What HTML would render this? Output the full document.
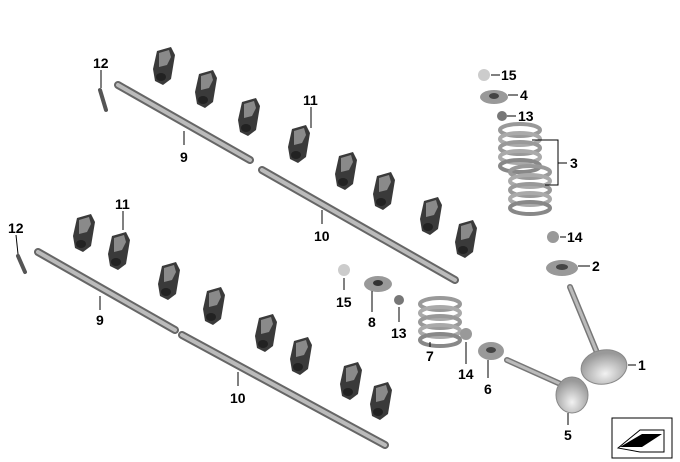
<!DOCTYPE html>
<html><head><meta charset="utf-8"><style>
html,body{margin:0;padding:0;background:#fff;}
svg{display:block}
text{font-family:"Liberation Sans",sans-serif;font-weight:bold;font-size:14px;fill:#000}
</style></head><body>
<svg width="680" height="462" viewBox="0 0 680 462" xmlns="http://www.w3.org/2000/svg">
<defs>
<radialGradient id="vh" cx="0.5" cy="0.7" r="0.6">
<stop offset="0" stop-color="#f2f2f2"/><stop offset="1" stop-color="#999"/>
</radialGradient>
<g id="rk">
<path d="M-8,-14 L6,-18 L10,-10 L6,14 L-2,20 L-10,16 L-12,4 Z" fill="#3a3a3a"/>
<path d="M-6,-12 L4,-15 L6,-8 L2,0 L-6,2 Z" fill="#8a8a8a"/>
<ellipse cx="-4" cy="12" rx="5" ry="4" fill="#222"/>
</g>
<g id="spr">
<ellipse cx="0" cy="-18" rx="20" ry="6" fill="none" stroke="#999" stroke-width="4"/>
<ellipse cx="0" cy="-9" rx="20" ry="6" fill="none" stroke="#aaa" stroke-width="4"/>
<ellipse cx="0" cy="0" rx="20" ry="6" fill="none" stroke="#999" stroke-width="4"/>
<ellipse cx="0" cy="9" rx="20" ry="6" fill="none" stroke="#aaa" stroke-width="4"/>
<ellipse cx="0" cy="18" rx="20" ry="6" fill="none" stroke="#888" stroke-width="4"/>
</g>
</defs>
<g stroke-linecap="round">
<line x1="118" y1="85" x2="250" y2="160" stroke="#666" stroke-width="8"/>
<line x1="118" y1="85" x2="250" y2="160" stroke="#bbb" stroke-width="4"/>
<line x1="262" y1="170" x2="455" y2="280" stroke="#666" stroke-width="8"/>
<line x1="262" y1="170" x2="455" y2="280" stroke="#bbb" stroke-width="4"/>
<line x1="38" y1="252" x2="175" y2="330" stroke="#666" stroke-width="8"/>
<line x1="38" y1="252" x2="175" y2="330" stroke="#bbb" stroke-width="4"/>
<line x1="182" y1="335" x2="385" y2="445" stroke="#666" stroke-width="8"/>
<line x1="182" y1="335" x2="385" y2="445" stroke="#bbb" stroke-width="4"/>
<line x1="100" y1="90" x2="106" y2="110" stroke="#555" stroke-width="4"/>
<line x1="18" y1="256" x2="25" y2="272" stroke="#555" stroke-width="4"/>
</g>
<use href="#rk" x="165" y="65"/><use href="#rk" x="207" y="88"/><use href="#rk" x="250" y="116"/><use href="#rk" x="300" y="143"/>
<use href="#rk" x="347" y="170"/><use href="#rk" x="385" y="190"/><use href="#rk" x="432" y="215"/><use href="#rk" x="467" y="238"/>
<use href="#rk" x="85" y="232"/><use href="#rk" x="120" y="250"/><use href="#rk" x="170" y="280"/><use href="#rk" x="215" y="305"/>
<use href="#rk" x="267" y="332"/><use href="#rk" x="302" y="355"/><use href="#rk" x="352" y="380"/><use href="#rk" x="382" y="400"/>
<circle cx="484" cy="75" r="6" fill="#ccc"/>
<ellipse cx="494" cy="97" rx="14" ry="7" fill="#999"/><ellipse cx="494" cy="96" rx="5" ry="3" fill="#444"/>
<ellipse cx="502" cy="116" rx="5" ry="5" fill="#777"/>
<use href="#spr" x="520" y="148"/><use href="#spr" x="530" y="190"/>
<ellipse cx="553" cy="237" rx="6" ry="6" fill="#999"/>
<ellipse cx="562" cy="268" rx="16" ry="8" fill="#999"/><ellipse cx="562" cy="267" rx="6" ry="3" fill="#444"/>
<circle cx="344" cy="270" r="6" fill="#ccc"/>
<ellipse cx="378" cy="284" rx="14" ry="8" fill="#999"/><ellipse cx="378" cy="283" rx="5" ry="3" fill="#333"/>
<ellipse cx="399" cy="300" rx="5" ry="5" fill="#777"/>
<use href="#spr" x="440" y="322"/>
<ellipse cx="466" cy="334" rx="6" ry="6" fill="#999"/>
<ellipse cx="491" cy="351" rx="13" ry="9" fill="#999"/><ellipse cx="491" cy="350" rx="5" ry="3" fill="#444"/>
<!-- valves -->
<line x1="570" y1="287" x2="598" y2="355" stroke="#777" stroke-width="6" stroke-linecap="round"/>
<line x1="570" y1="287" x2="598" y2="355" stroke="#bbb" stroke-width="3" stroke-linecap="round"/>
<ellipse cx="604" cy="367" rx="23" ry="17" transform="rotate(-10 604 367)" fill="url(#vh)" stroke="#888"/>
<line x1="507" y1="360" x2="565" y2="386" stroke="#777" stroke-width="6" stroke-linecap="round"/>
<line x1="507" y1="360" x2="565" y2="386" stroke="#bbb" stroke-width="3" stroke-linecap="round"/>
<ellipse cx="572" cy="395" rx="16" ry="18" fill="url(#vh)" stroke="#888"/>
<g stroke="#000" stroke-width="1" fill="none">
<line x1="101" y1="70" x2="101" y2="88"/>
<line x1="311" y1="107" x2="311" y2="128"/>
<line x1="123" y1="211" x2="123" y2="230"/>
<line x1="16" y1="235" x2="18" y2="254"/>
<line x1="184" y1="131" x2="184" y2="145"/>
<line x1="322" y1="210" x2="322" y2="224"/>
<line x1="100" y1="296" x2="100" y2="310"/>
<line x1="238" y1="372" x2="238" y2="386"/>
<line x1="491" y1="75" x2="500" y2="75"/>
<line x1="508" y1="95" x2="518" y2="95"/>
<line x1="507" y1="116" x2="516" y2="116"/>
<path d="M532,140 L558,140 L558,185 L545,185 M558,163 L567,163"/>
<line x1="560" y1="237" x2="566" y2="237"/>
<line x1="578" y1="266" x2="590" y2="266"/>
<line x1="344" y1="278" x2="344" y2="290"/>
<line x1="372" y1="291" x2="372" y2="312"/>
<line x1="399" y1="307" x2="399" y2="322"/>
<line x1="430" y1="342" x2="430" y2="347"/>
<line x1="466" y1="342" x2="466" y2="364"/>
<line x1="488" y1="360" x2="488" y2="378"/>
<line x1="628" y1="365" x2="636" y2="365"/>
<line x1="568" y1="413" x2="568" y2="425"/>
</g>
<text x="93" y="68">12</text><text x="180" y="162">9</text><text x="303" y="105">11</text><text x="314" y="241">10</text>
<text x="115" y="209">11</text><text x="8" y="233">12</text><text x="96" y="325">9</text><text x="230" y="403">10</text>
<text x="501" y="80">15</text><text x="520" y="100">4</text><text x="518" y="121">13</text><text x="570" y="168">3</text>
<text x="567" y="242">14</text><text x="592" y="271">2</text><text x="336" y="307">15</text><text x="368" y="327">8</text>
<text x="391" y="338">13</text><text x="426" y="361">7</text><text x="458" y="379">14</text><text x="484" y="394">6</text>
<text x="638" y="370">1</text><text x="564" y="440">5</text>
<rect x="612" y="418" width="60" height="40" fill="#fff" stroke="#000"/>
<path d="M618,448 L640,430 L664,430 L664,452 L640,452 Z" fill="#fff" stroke="#000"/>
<path d="M620,447 L642,434 L662,434 L642,447 Z" fill="#000"/>
</svg>
</body></html>
